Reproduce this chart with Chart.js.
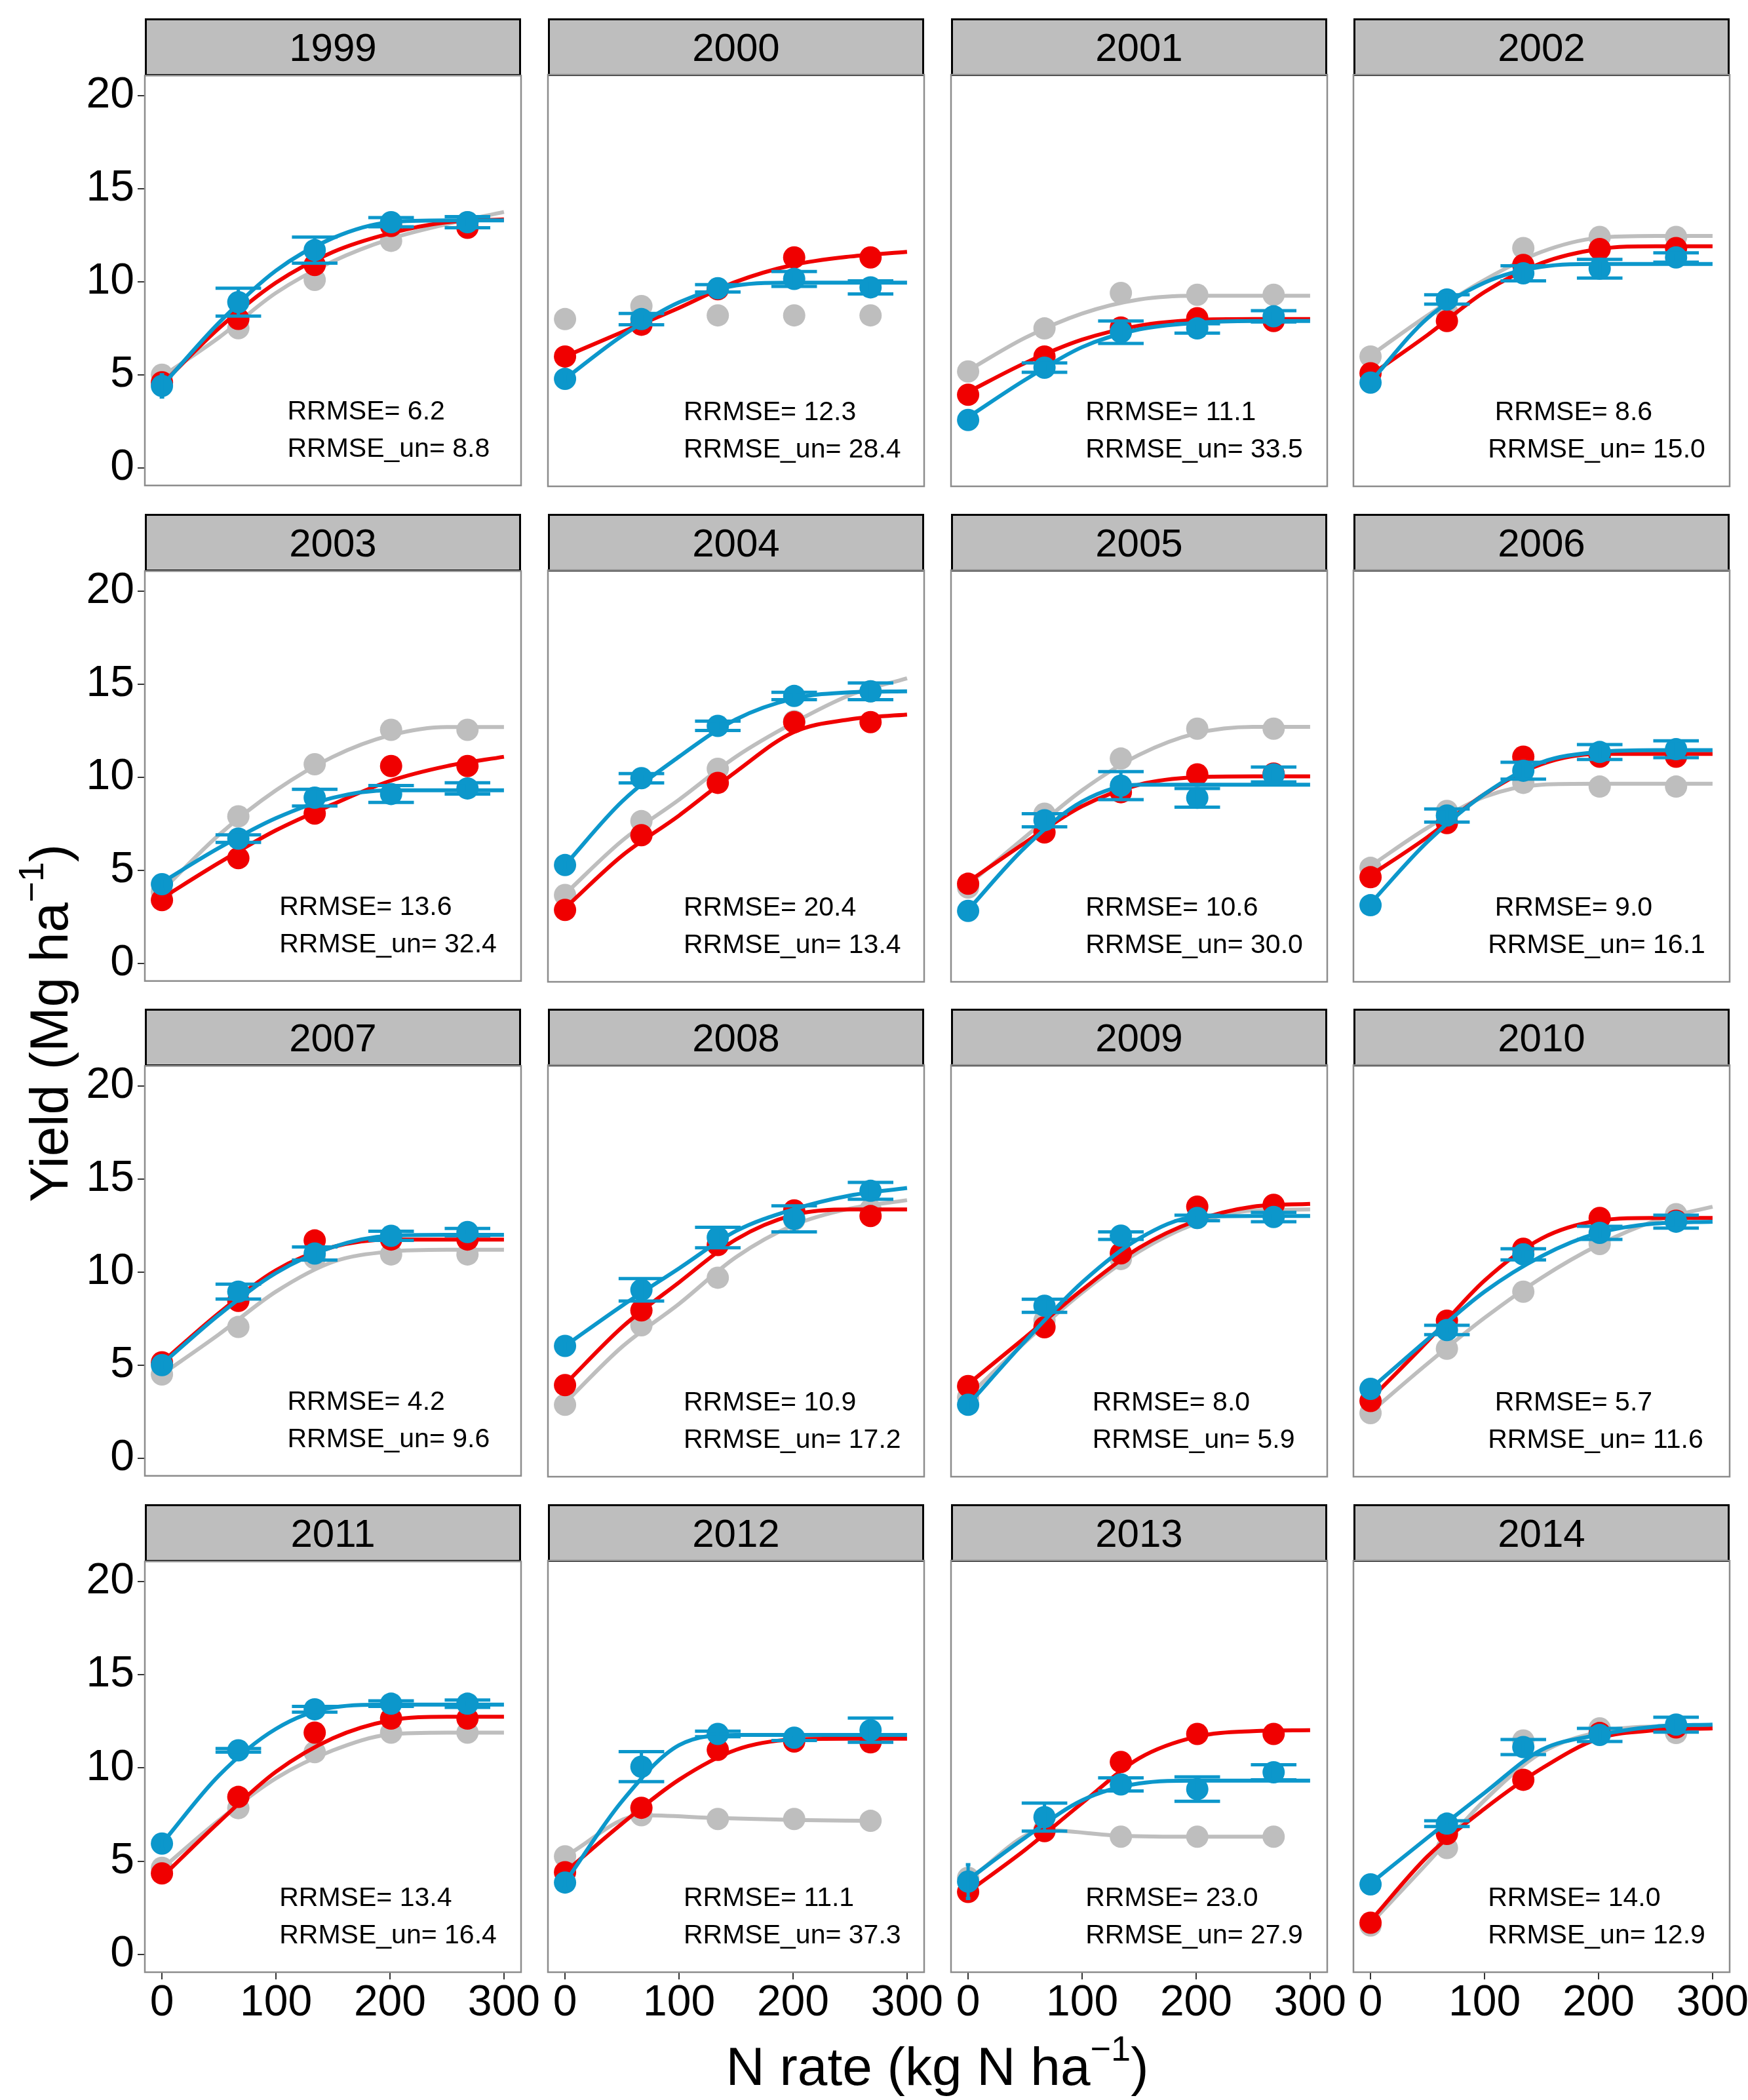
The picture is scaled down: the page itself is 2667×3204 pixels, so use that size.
<!DOCTYPE html>
<html>
<head>
<meta charset="utf-8">
<script src="https://cdn.jsdelivr.net/npm/chart.js@4.4.1/dist/chart.umd.min.js"></script>
<style>
  html, body { margin: 0; padding: 0; background: #fff; }
  #page { position: relative; width: 2667px; height: 3204px; overflow: hidden;
          font-family: "Liberation Sans", Arial, sans-serif; color: #000; }
  .strip { position: absolute; box-sizing: border-box; background: #bebebe; border: 3px solid #000;
           font-size: 60px; display: flex; align-items: center; justify-content: center; }
  .panel { position: absolute; }
  .title { position: absolute; white-space: nowrap; font-size: 82px; line-height: 1; }
  .title sup { font-size: 66%; position: relative; top: -0.15em; }
</style>
</head>
<body>
<div id="page">
  <div class="title" id="ytitle">Yield (Mg ha<sup>−1</sup>)</div>
  <div class="title" id="xtitle">N rate (kg N ha<sup>−1</sup>)</div>
</div>
<script>
// ---- data ----
const years = ['1999','2000','2001','2002','2003','2004','2005','2006',
               '2007','2008','2009','2010','2011','2012','2013','2014'];
const nRates = [0, 67, 134, 201, 268];
const fitX = [0, 50, 100, 150, 200, 250, 300];
const xTicks = [0, 100, 200, 300];
const yTicks = [0, 5, 10, 15, 20];

const obsRed = [
  [4.6, 8.0, 10.9, 13.0, 12.9], [6.0, 7.7, 9.6, 11.3, 11.3], [3.95, 6.0, 7.55, 8.05, 7.9], [5.1, 7.9, 10.9, 11.75, 11.8],
  [3.4, 5.65, 8.05, 10.6, 10.6], [2.9, 6.9, 9.7, 12.95, 12.95], [4.3, 7.05, 9.2, 10.15, 10.2], [4.65, 7.55, 11.1, 11.1, 11.1],
  [5.15, 8.45, 11.7, 11.75, 11.75], [3.95, 7.95, 11.45, 13.3, 13.0], [3.9, 7.05, 11.0, 13.5, 13.6], [3.1, 7.4, 11.25, 12.9, 12.75],
  [4.35, 8.45, 11.9, 12.65, 12.65], [4.4, 7.85, 10.95, 11.4, 11.35], [3.35, 6.6, 10.3, 11.8, 11.8], [1.7, 6.45, 9.35, 11.85, 12.15]
];
const obsGray = [
  [5.0, 7.5, 10.1, 12.2, 13.2], [8.0, 8.7, 8.2, 8.2, 8.2], [5.2, 7.5, 9.4, 9.3, 9.3], [6.0, 8.4, 11.8, 12.4, 12.4],
  [3.85, 7.9, 10.7, 12.55, 12.55], [3.7, 7.65, 10.45, 13.0, 14.6], [4.1, 8.05, 11.0, 12.6, 12.6], [5.15, 8.2, 9.7, 9.5, 9.5],
  [4.5, 7.05, 10.75, 10.95, 10.95], [2.9, 7.15, 9.7, 12.8, 13.35], [3.3, 7.4, 10.7, 12.9, 13.35], [2.45, 5.9, 8.95, 11.5, 13.1],
  [4.65, 7.85, 10.85, 11.9, 11.9], [5.25, 7.45, 7.25, 7.25, 7.15], [4.1, 6.7, 6.3, 6.3, 6.3], [1.55, 5.7, 11.45, 12.1, 11.85]
];
const obsBlue = [
  [4.4, 8.9, 11.7, 13.2, 13.2], [4.8, 8.0, 9.65, 10.15, 9.7], [2.6, 5.4, 7.3, 7.5, 8.15], [4.6, 9.05, 10.45, 10.7, 11.3],
  [4.25, 6.7, 8.9, 9.1, 9.4], [5.3, 9.95, 12.75, 14.35, 14.6], [2.85, 7.7, 9.55, 8.9, 10.15], [3.15, 7.95, 10.35, 11.35, 11.5],
  [5.0, 8.95, 11.0, 11.95, 12.15], [6.05, 9.05, 11.85, 12.85, 14.35], [2.9, 8.2, 11.95, 12.9, 12.95], [3.75, 6.9, 10.95, 12.1, 12.7],
  [5.95, 10.95, 13.15, 13.45, 13.45], [3.85, 10.05, 11.8, 11.6, 12.0], [3.9, 7.35, 9.1, 8.85, 9.75], [3.75, 7.0, 11.1, 11.75, 12.3]
];
const blueErr = [
  [0.6, 0.75, 0.7, 0.25, 0.3], [0.3, 0.3, 0.2, 0.4, 0.35], [0.3, 0.25, 0.6, 0.25, 0.3], [0.3, 0.25, 0.4, 0.5, 0.25],
  [0.3, 0.2, 0.45, 0.45, 0.3], [0.3, 0.25, 0.25, 0.2, 0.45], [0.3, 0.35, 0.75, 0.5, 0.4], [0.3, 0.35, 0.45, 0.4, 0.45],
  [0.3, 0.4, 0.35, 0.25, 0.2], [0.3, 0.6, 0.55, 0.7, 0.45], [0.3, 0.35, 0.2, 0.15, 0.25], [0.3, 0.25, 0.3, 0.35, 0.35],
  [0.3, 0.1, 0.15, 0.15, 0.2], [0.3, 0.8, 0.15, 0.15, 0.65], [0.9, 0.75, 0.35, 0.65, 0.4], [0.3, 0.15, 0.4, 0.35, 0.4]
];

// fitted curves, sampled at fitX (5-value rows are sampled at nRates)
const fitRed = [
  [4.5, 7.5, 9.95, 11.6, 12.6, 13.2, 13.35], [6.0, 7.3, 8.6, 10.0, 10.9, 11.35, 11.6],
  [4.1, 5.65, 6.9, 7.65, 7.95, 8.0, 8.0], [5.0, 7.15, 9.45, 11.0, 11.75, 11.9, 11.9],
  [3.5, 5.4, 7.15, 8.55, 9.8, 10.6, 11.1], [3.0, 5.8, 7.95, 10.3, 12.4, 13.1, 13.35],
  [4.4, 6.5, 8.45, 9.6, 10.0, 10.05, 10.05], [4.75, 6.8, 9.1, 10.7, 11.25, 11.25, 11.25],
  [5.15, 7.8, 10.1, 11.35, 11.75, 11.75, 11.75], [4.0, 7.05, 9.45, 11.75, 13.05, 13.35, 13.35],
  [4.0, 6.5, 9.05, 11.3, 12.75, 13.5, 13.65], [3.2, 6.3, 9.55, 11.8, 12.75, 12.9, 12.9],
  [4.15, 7.1, 9.8, 11.6, 12.55, 12.75, 12.75], [4.4, 7.0, 9.35, 10.95, 11.5, 11.55, 11.55],
  [3.35, 5.6, 8.1, 10.5, 11.65, 11.95, 12.0], [1.8, 5.25, 7.8, 9.95, 11.55, 12.0, 12.1]
];
const fitGray = [
  [4.9, 7.0, 9.4, 11.1, 12.3, 13.1, 13.75], null,
  [5.25, 7.0, 8.3, 9.05, 9.25, 9.25, 9.25], [6.05, 8.2, 10.1, 11.6, 12.35, 12.45, 12.45],
  [3.9, 6.9, 9.3, 11.1, 12.25, 12.7, 12.7], [3.75, 6.6, 8.8, 11.1, 12.9, 14.4, 15.3],
  [4.25, 6.8, 9.3, 11.2, 12.35, 12.7, 12.7], [5.25, 7.3, 8.95, 9.6, 9.65, 9.65, 9.65],
  [4.5, 6.65, 8.95, 10.55, 11.1, 11.2, 11.2], [3.0, 6.0, 8.3, 10.8, 12.5, 13.4, 13.85],
  [3.35, 6.25, 8.9, 11.1, 12.6, 13.3, 13.35], [2.5, 5.1, 7.55, 9.7, 11.45, 12.75, 13.5],
  [4.6, 7.2, 9.45, 10.95, 11.8, 11.9, 11.9], [5.25, 7.45, 7.3, 7.2, 7.15],
  [4.0, 6.65, 6.35, 6.3, 6.3], [1.65, 4.9, 8.25, 10.8, 11.9, 12.2, 12.2]
];
const fitBlue = [
  [4.4, 7.8, 10.6, 12.35, 13.2, 13.3, 13.3], [4.8, 7.1, 8.9, 9.8, 9.95, 9.95, 9.95],
  [2.75, 4.75, 6.5, 7.45, 7.8, 7.9, 7.9], [4.65, 8.05, 9.95, 10.8, 10.95, 10.95, 10.95],
  [4.35, 6.2, 7.8, 8.9, 9.3, 9.3, 9.3], [5.3, 8.7, 11.1, 13.1, 14.2, 14.55, 14.6],
  [2.9, 6.25, 8.7, 9.6, 9.6, 9.6, 9.6], [3.25, 6.55, 9.1, 10.8, 11.35, 11.45, 11.45],
  [5.05, 7.7, 9.95, 11.35, 11.95, 12.0, 12.0], [6.05, 8.2, 10.2, 12.2, 13.35, 14.1, 14.5],
  [2.9, 6.3, 9.45, 11.8, 12.95, 13.0, 13.0], [3.75, 6.4, 8.95, 10.85, 12.1, 12.6, 12.7],
  [5.95, 9.6, 12.1, 13.25, 13.4, 13.4, 13.4], [3.85, 8.2, 11.2, 11.75, 11.75, 11.75, 11.75],
  [4.0, 6.25, 8.25, 9.15, 9.3, 9.3, 9.3], [3.8, 6.25, 8.65, 10.95, 11.75, 12.2, 12.3]
];

const rrmse   = [6.2, 12.3, 11.1, 8.6, 13.6, 20.4, 10.6, 9.0, 4.2, 10.9, 8.0, 5.7, 13.4, 11.1, 23.0, 14.0];
const rrmseUn = [8.8, 28.4, 33.5, 15.0, 32.4, 13.4, 30.0, 16.1, 9.6, 17.2, 5.9, 11.6, 16.4, 37.3, 27.9, 12.9];
// left edge of the two annotation lines, in kg N/ha
const noteX1 = [110, 104, 103, 109, 103, 104, 103, 109, 110, 104, 109, 109, 103, 104, 103, 103];
const noteX2 = [110, 104, 103, 103, 103, 104, 103, 103, 110, 104, 109, 103, 103, 104, 103, 103];

// ---- look ----
const RED = '#f00000', GRAY = '#bebebe', BLUE = '#0c97cb';
const FONT = '"Liberation Sans", Arial, sans-serif';
Chart.defaults.font.family = FONT;
Chart.defaults.color = '#000';

const colLeft = [221, 836, 1451, 2065];
const rowTop = [28, 784, 1539, 2295];
const panelW = 574, stripH = 86, plotH = 628;
const pad = 40, padR = 60, xAxisH = 110;
const capWidth = [4, 40, 40, 40, 40];   // error-bar cap width per N rate, kg N/ha

const errorBars = {
  id: 'errorBars',
  afterDatasetsDraw(chart, args, opts) {
    const { ctx } = chart;
    const x = chart.scales.x, y = chart.scales.y;
    ctx.save();
    ctx.strokeStyle = BLUE;
    ctx.lineWidth = 5;
    opts.values.forEach((v, k) => {
      const e = opts.errors[k];
      const px = x.getPixelForValue(nRates[k]);
      const x0 = x.getPixelForValue(nRates[k] - capWidth[k] / 2);
      const x1 = x.getPixelForValue(nRates[k] + capWidth[k] / 2);
      const lo = y.getPixelForValue(v - e), hi = y.getPixelForValue(v + e);
      ctx.beginPath();
      ctx.moveTo(px, lo); ctx.lineTo(px, hi);
      ctx.moveTo(x0, lo); ctx.lineTo(x1, lo);
      ctx.moveTo(x0, hi); ctx.lineTo(x1, hi);
      ctx.stroke();
    });
    ctx.restore();
  }
};

const panelDeco = {
  id: 'panelDeco',
  afterDraw(chart, args, opts) {
    const { ctx, chartArea: a } = chart;
    const x = chart.scales.x, y = chart.scales.y;
    ctx.save();
    ctx.strokeStyle = '#8c8c8c';
    ctx.lineWidth = 2.5;
    ctx.strokeRect(a.left, a.top, a.right - a.left, a.bottom - a.top);
    ctx.fillStyle = '#000';
    ctx.font = '41px ' + FONT;
    ctx.textAlign = 'left';
    ctx.textBaseline = 'middle';
    ctx.fillText('RRMSE= ' + opts.rr.toFixed(1), x.getPixelForValue(opts.x1), y.getPixelForValue(3));
    ctx.fillText('RRMSE_un= ' + opts.un.toFixed(1), x.getPixelForValue(opts.x2), y.getPixelForValue(1));
    ctx.restore();
  }
};

function pts(xs, ys) {
  return ys.map((v, k) => ({ x: xs[k], y: v }));
}
function pointSet(vals, color, order) {
  return { type: 'scatter', data: pts(nRates, vals), backgroundColor: color, borderWidth: 0,
           pointRadius: 17, pointHoverRadius: 17, order: order };
}
function fitSet(vals, color, width, order) {
  const xs = vals.length === fitX.length ? fitX : nRates;
  return { type: 'line', data: pts(xs, vals), borderColor: color, borderWidth: width,
           pointRadius: 0, fill: false, cubicInterpolationMode: 'monotone', order: order };
}

const page = document.getElementById('page');

years.forEach((yr, i) => {
  const r = Math.floor(i / 4), c = i % 4;
  const left = colLeft[c], top = rowTop[r];

  const strip = document.createElement('div');
  strip.className = 'strip';
  strip.style.left = left + 'px';
  strip.style.top = top + 'px';
  strip.style.width = panelW + 'px';
  strip.style.height = (stripH + 2) + 'px';
  strip.textContent = yr;
  page.appendChild(strip);

  const isLeft = c === 0, isBottom = r === 3;
  const plotTop = top + stripH;
  const cvLeft = isLeft ? 0 : left - pad;
  const cvTop = plotTop - pad;
  const cvW = left + panelW + padR - cvLeft;
  const cvH = plotH + 2 * pad + (isBottom ? xAxisH : 0);

  const cv = document.createElement('canvas');
  cv.className = 'panel';
  cv.width = cvW; cv.height = cvH;
  cv.style.left = cvLeft + 'px';
  cv.style.top = cvTop + 'px';
  cv.style.width = cvW + 'px';
  cv.style.height = cvH + 'px';
  page.appendChild(cv);

  const datasets = [
    pointSet(obsBlue[i], BLUE, 1),
    fitSet(fitBlue[i], BLUE, 6, 2),
    pointSet(obsRed[i], RED, 3),
    fitSet(fitRed[i], RED, 6, 4),
    pointSet(obsGray[i], GRAY, 5)
  ];
  if (fitGray[i]) datasets.push(fitSet(fitGray[i], GRAY, 6, 6));

  const tickGrid = { display: true, drawOnChartArea: false, drawTicks: true, tickLength: 11, color: '#333', lineWidth: 2 };
  const xScale = {
    type: 'linear', min: -15, max: 315, display: isBottom,
    afterBuildTicks: s => { s.ticks = xTicks.map(v => ({ value: v })); },
    ticks: { font: { size: 66, lineHeight: 1.1 }, color: '#000', padding: 0, maxRotation: 0, autoSkip: false },
    grid: tickGrid, border: { display: false }
  };
  if (isBottom) xScale.afterFit = s => { s.height = xAxisH; };
  const yScale = {
    type: 'linear', min: -0.95, max: 21.08, display: isLeft,
    afterBuildTicks: s => { s.ticks = yTicks.map(v => ({ value: v })); },
    ticks: { font: { size: 66, lineHeight: 1.1 }, color: '#000', padding: 5, autoSkip: false },
    grid: tickGrid, border: { display: false }
  };
  if (isLeft) yScale.afterFit = s => { s.width = colLeft[0] - pad; };

  new Chart(cv, {
    type: 'scatter',
    data: { datasets: datasets },
    options: {
      responsive: false,
      animation: false,
      devicePixelRatio: 1,
      events: [],
      layout: { padding: { left: pad, top: pad, right: padR, bottom: pad } },
      plugins: {
        legend: { display: false },
        tooltip: { enabled: false },
        errorBars: { values: obsBlue[i], errors: blueErr[i] },
        panelDeco: { rr: rrmse[i], un: rrmseUn[i], x1: noteX1[i], x2: noteX2[i] }
      },
      scales: { x: xScale, y: yScale }
    },
    plugins: [errorBars, panelDeco]
  });
});

// axis titles
const yt = document.getElementById('ytitle');
yt.style.left = '72px';
yt.style.top = '1561px';
yt.style.transform = 'translate(-50%, -50%) rotate(-90deg)';
const xt = document.getElementById('xtitle');
xt.style.left = '1430px';
xt.style.top = '3150px';
xt.style.transform = 'translate(-50%, -50%)';
</script>
</body>
</html>
